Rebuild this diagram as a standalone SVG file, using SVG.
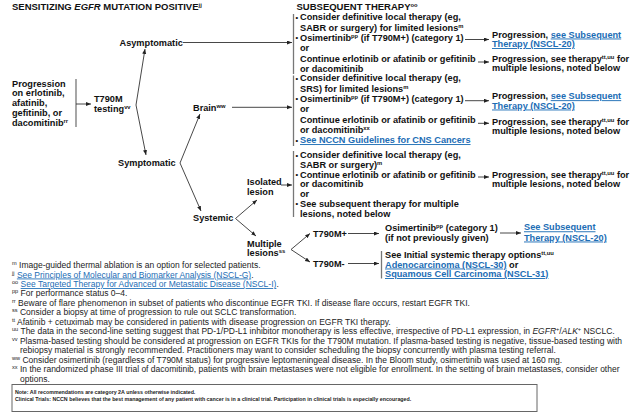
<svg xmlns="http://www.w3.org/2000/svg" width="640" height="415" viewBox="0 0 640 415">
<style>
text { font-family: "Liberation Sans", Arial, sans-serif; }
.b { font-weight: bold; font-size: 9.2px; fill: #111; }
.bu { font-weight: bold; font-size: 7.5px; fill: #111; }
.t { font-weight: bold; font-size: 9.5px; fill: #111; }
.lnk { fill: #1c6db5; text-decoration: underline; }
.sup { font-size: 5.8px; baseline-shift: super; }
.fn { font-size: 8.5px; fill: #222; }
.fsup { font-size: 5.6px; baseline-shift: super; }
.note { font-weight: bold; font-size: 5.3px; fill: #222; }
.bar { stroke: #777; stroke-width: 1.3; fill: none; }
.c line { stroke: #333; stroke-width: 0.9; marker-end: url(#ah); }
</style>
<defs>
<marker id="ah" markerUnits="userSpaceOnUse" markerWidth="6" markerHeight="5" refX="5" refY="2" orient="auto">
<path d="M0,0 L5,2 L0,4 z" fill="#222"/>
</marker>
</defs>
<rect width="640" height="415" fill="#fff"/>

<g id="titles">
<text class="t" x="12" y="9.5">SENSITIZING <tspan font-style="italic">EGFR</tspan> MUTATION POSITIVE<tspan class="sup">jj</tspan></text>
<text class="t" x="296.5" y="9.5">SUBSEQUENT THERAPY<tspan class="sup">oo</tspan></text>
</g>

<g id="progression">
<line class="bar" x1="76" y1="79" x2="76" y2="127"/>
<text class="b" x="12" y="86.5">Progression</text>
<text class="b" x="12" y="96.3">on erlotinib,</text>
<text class="b" x="12" y="106.1">afatinib,</text>
<text class="b" x="12" y="115.9">gefitinib, or</text>
<text class="b" x="12" y="125.7">dacomitinib<tspan class="sup">rr</tspan></text>
</g>

<g id="t790m-testing">
<text class="b" x="94" y="101.5">T790M</text>
<text class="b" x="94" y="112">testing<tspan class="sup">vv</tspan></text>
</g>

<g id="asymptomatic"><text class="b" x="119.5" y="45.5">Asymptomatic</text></g>
<g id="symptomatic"><text class="b" x="118" y="166">Symptomatic</text></g>
<g id="brain"><text class="b" x="193" y="110.5">Brain<tspan class="sup">ww</tspan></text></g>
<g id="systemic"><text class="b" x="193" y="220.8">Systemic</text></g>
<g id="isolated"><text class="b" x="247" y="185">Isolated</text><text class="b" x="247" y="195">lesion</text></g>
<g id="multiple"><text class="b" x="247" y="246.5">Multiple</text><text class="b" x="247" y="256.3">lesions<tspan class="sup">ss</tspan></text></g>

<g id="bracket-asymptomatic">
<line class="bar" x1="293.5" y1="14" x2="293.5" y2="74"/>
<text class="bu" x="295.6" y="19.8">•</text>
<text class="b" x="300" y="20.3">Consider definitive local therapy (eg,</text>
<text class="b" x="300" y="30.6">SABR or surgery) for limited lesions<tspan class="sup">m</tspan></text>
<text class="bu" x="295.6" y="40.4">•</text>
<text class="b" x="300" y="40.9">Osimertinib<tspan class="sup">pp</tspan> (if T790M+) (category 1)</text>
<text class="b" x="300" y="51.2">or</text>
<text class="b" x="300" y="61.5">Continue erlotinib or afatinib or gefitinib</text>
<text class="b" x="300" y="71.8">or dacomitinib</text>
</g>

<g id="bracket-brain">
<line class="bar" x1="293.5" y1="75.5" x2="293.5" y2="146"/>
<text class="bu" x="295.6" y="80.8">•</text>
<text class="b" x="300" y="81.3">Consider definitive local therapy (eg,</text>
<text class="b" x="300" y="91.6">SRS) for limited lesions<tspan class="sup">m</tspan></text>
<text class="bu" x="295.6" y="101.4">•</text>
<text class="b" x="300" y="101.9">Osimertinib<tspan class="sup">pp</tspan> (if T790M+) (category 1)</text>
<text class="b" x="300" y="112.2">or</text>
<text class="b" x="300" y="122.5">Continue erlotinib or afatinib or gefitinib</text>
<text class="b" x="300" y="132.8">or dacomitinib<tspan class="sup">xx</tspan></text>
<text class="bu" x="295.6" y="142.6">•</text>
<text class="b lnk" x="300" y="143.1">See NCCN Guidelines for CNS Cancers</text>
</g>

<g id="bracket-isolated">
<line class="bar" x1="293.5" y1="151" x2="293.5" y2="217"/>
<text class="bu" x="295.6" y="157.8">•</text>
<text class="b" x="300" y="158.3">Consider definitive local therapy (eg,</text>
<text class="b" x="300" y="168">SABR or surgery)<tspan class="sup">m</tspan></text>
<text class="bu" x="295.6" y="177.2">•</text>
<text class="b" x="300" y="177.7">Continue erlotinib or afatinib or gefitinib</text>
<text class="b" x="300" y="187.4">or dacomitinib</text>
<text class="b" x="300" y="197.1">or</text>
<text class="bu" x="295.6" y="206.3">•</text>
<text class="b" x="300" y="206.8">See subsequent therapy for multiple</text>
<text class="b" x="300" y="216.5">lesions, noted below</text>
</g>

<g id="out-asym-1">
<text class="b" x="492" y="37.5">Progression, <tspan class="lnk">see Subsequent</tspan></text>
<text class="b lnk" x="492" y="47">Therapy (NSCL-20)</text>
</g>
<g id="out-asym-2">
<text class="b" x="492" y="61.5">Progression, see therapy<tspan class="sup">tt,uu</tspan> for</text>
<text class="b" x="492" y="71">multiple lesions, noted below</text>
</g>
<g id="out-brain-1">
<text class="b" x="492" y="99.2">Progression, <tspan class="lnk">see Subsequent</tspan></text>
<text class="b lnk" x="492" y="108.5">Therapy (NSCL-20)</text>
</g>
<g id="out-brain-2">
<text class="b" x="492" y="124.7">Progression, see therapy<tspan class="sup">tt,uu</tspan> for</text>
<text class="b" x="492" y="134">multiple lesions, noted below</text>
</g>
<g id="out-isolated">
<text class="b" x="492" y="177.5">Progression, see therapy<tspan class="sup">tt,uu</tspan> for</text>
<text class="b" x="492" y="187">multiple lesions, noted below</text>
</g>

<g id="t790m-pos"><text class="b" x="313" y="236.6">T790M+</text></g>
<g id="t790m-neg"><text class="b" x="313" y="266.6">T790M-</text></g>
<g id="osimertinib">
<text class="b" x="385" y="230.5">Osimertinib<tspan class="sup">pp</tspan> (category 1)</text>
<text class="b" x="385" y="240.5">(if not previously given)</text>
</g>
<g id="see-subsequent">
<text class="b lnk" x="524" y="230.3">See Subsequent</text>
<text class="b lnk" x="524" y="240.5">Therapy (NSCL-20)</text>
</g>
<g id="initial-systemic">
<line class="bar" x1="381.5" y1="251" x2="381.5" y2="278.5"/>
<text class="b" x="385" y="257.6">See Initial systemic therapy options<tspan class="sup">tt,uu</tspan></text>
<text class="b" x="385" y="267.5"><tspan class="lnk">Adenocarcinoma (NSCL-30)</tspan> or</text>
<text class="b lnk" x="385" y="277">Squamous Cell Carcinoma (NSCL-31)</text>
</g>

<g id="connectors" class="c">
<line x1="76" y1="104" x2="91" y2="104"/>
<line x1="136" y1="105" x2="145" y2="49"/>
<line x1="136" y1="105" x2="146" y2="155"/>
<line x1="183" y1="42.5" x2="292" y2="42.5"/>
<line x1="180" y1="163" x2="200" y2="114"/>
<line x1="180" y1="163" x2="201" y2="211"/>
<line x1="232" y1="107.3" x2="292" y2="107.3"/>
<line x1="235.5" y1="218.5" x2="257" y2="200"/>
<line x1="235.5" y1="218.5" x2="256" y2="236"/>
<line x1="281" y1="185" x2="292" y2="185"/>
<line x1="291" y1="249.5" x2="310" y2="233.5"/>
<line x1="291" y1="249.5" x2="310" y2="262"/>
<line x1="348" y1="233.5" x2="379" y2="233.5"/>
<line x1="348" y1="263.5" x2="379" y2="263.5"/>
<line x1="500" y1="233" x2="521" y2="233"/>
<line x1="465" y1="39.5" x2="489" y2="39.5"/>
<line x1="478" y1="62" x2="489" y2="62"/>
<line x1="465" y1="100.7" x2="489" y2="100.7"/>
<line x1="478" y1="123.3" x2="489" y2="123.3"/>
<line x1="478" y1="177" x2="489" y2="177"/>
</g>

<g id="footnotes">
<text class="fn" x="12" y="268"><tspan class="fsup">m</tspan> Image-guided thermal ablation is an option for selected patients.</text>
<text class="fn" x="12" y="277.5"><tspan class="fsup">jj</tspan> <tspan class="lnk">See Principles of Molecular and Biomarker Analysis (NSCL-G)</tspan>.</text>
<text class="fn" x="12" y="287"><tspan class="fsup">oo</tspan> <tspan class="lnk">See Targeted Therapy for Advanced or Metastatic Disease (NSCL-I)</tspan>.</text>
<text class="fn" x="12" y="296.4"><tspan class="fsup">pp</tspan> For performance status 0–4.</text>
<text class="fn" x="12" y="305.9"><tspan class="fsup">rr</tspan> Beware of flare phenomenon in subset of patients who discontinue EGFR TKI. If disease flare occurs, restart EGFR TKI.</text>
<text class="fn" x="12" y="315.4"><tspan class="fsup">ss</tspan> Consider a biopsy at time of progression to rule out SCLC transformation.</text>
<text class="fn" x="12" y="324.9"><tspan class="fsup">tt</tspan> Afatinib + cetuximab may be considered in patients with disease progression on EGFR TKI therapy.</text>
<text class="fn" x="12" y="334.4"><tspan class="fsup">uu</tspan> The data in the second-line setting suggest that PD-1/PD-L1 inhibitor monotherapy is less effective, irrespective of PD-L1 expression, in <tspan font-style="italic">EGFR</tspan><tspan class="fsup">+</tspan>/<tspan font-style="italic">ALK</tspan><tspan class="fsup">+</tspan> NSCLC.</text>
<text class="fn" x="12" y="343.8"><tspan class="fsup">vv</tspan> Plasma-based testing should be considered at progression on EGFR TKIs for the T790M mutation. If plasma-based testing is negative, tissue-based testing with</text>
<text class="fn" x="20" y="353.3">rebiopsy material is strongly recommended. Practitioners may want to consider scheduling the biopsy concurrently with plasma testing referral.</text>
<text class="fn" x="12" y="362.8"><tspan class="fsup">ww</tspan> Consider osimertinib (regardless of T790M status) for progressive leptomeningeal disease. In the Bloom study, osimertinib was used at 160 mg.</text>
<text class="fn" x="12" y="372.3"><tspan class="fsup">xx</tspan> In the randomized phase III trial of dacomitinib, patients with brain metastases were not eligible for enrollment. In the setting of brain metastases, consider other</text>
<text class="fn" x="20" y="381.8">options.</text>
</g>

<g id="note-box">
<rect x="12" y="384.5" width="525" height="27" fill="#fff" stroke="#666" stroke-width="1"/>
<text class="note" x="15" y="394.3">Note: All recommendations are category 2A unless otherwise indicated.</text>
<text class="note" x="15" y="400.5">Clinical Trials: NCCN believes that the best management of any patient with cancer is in a clinical trial. Participation in clinical trials is especially encouraged.</text>
</g>
</svg>
